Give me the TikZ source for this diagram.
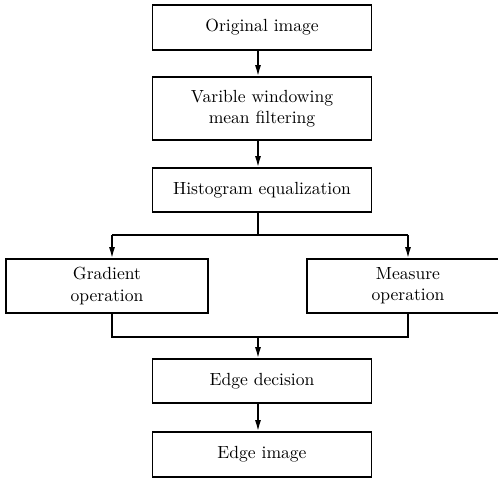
\documentclass[tikz,border=0pt]{standalone}
\usetikzlibrary{arrows.meta}

\tikzset{
	blockbox/.style={draw, line width=0.9pt, inner sep=0pt, align=center, minimum width=4.38cm},
	sidebox/.style={blockbox, minimum width=4.04cm},
	arr/.style={-{Latex[length=2.2mm,width=1.2mm]}},
}

\begin{document}
\begin{tikzpicture}[x=0.02cm,y=-0.02cm,line width=0.9pt]

	\clip (0,0) rectangle (498,480);

	% main column
	\node[blockbox, minimum height=0.9cm]  (orig) at (262,27.5)  {Original image};
	\node[blockbox, minimum height=1.26cm] (filt) at (262,108.5) {Varible windowing\\mean filtering};
	\node[blockbox, minimum height=0.88cm] (hist) at (262,190)   {Histogram equalization};

	% the two branches
	\node[sidebox, minimum height=1.08cm] (grad) at (107,286) {Gradient\\operation};
	\node[sidebox, minimum height=1.08cm] (meas) at (408,286) {Measure\\operation};

	\node[blockbox, minimum height=0.88cm] (dec) at (262,381)   {Edge decision};
	\node[blockbox, minimum height=0.9cm]  (out) at (262,454.5) {Edge image};

	\coordinate (axis)  at (258,0);
	\coordinate (split) at (258,235);
	\coordinate (merge) at (258,337);
	\coordinate (gl)    at (112,235);
	\coordinate (mr)    at (408,235);

	\draw[arr] (orig.south -| axis) -- (filt.north -| axis);
	\draw[arr] (filt.south -| axis) -- (hist.north -| axis);
	\draw (hist.south -| axis) -- (split);
	\draw (gl) -- (mr);
	\draw[arr] (gl) -- (gl |- grad.north);
	\draw[arr] (mr) -- (mr |- meas.north);
	\draw (grad.south -| gl) -- (gl |- merge) -- (mr |- merge) -- (meas.south -| mr);
	\draw[arr] (merge) -- (dec.north -| merge);
	\draw[arr] (dec.south -| axis) -- (out.north -| axis);

\end{tikzpicture}
\end{document}
